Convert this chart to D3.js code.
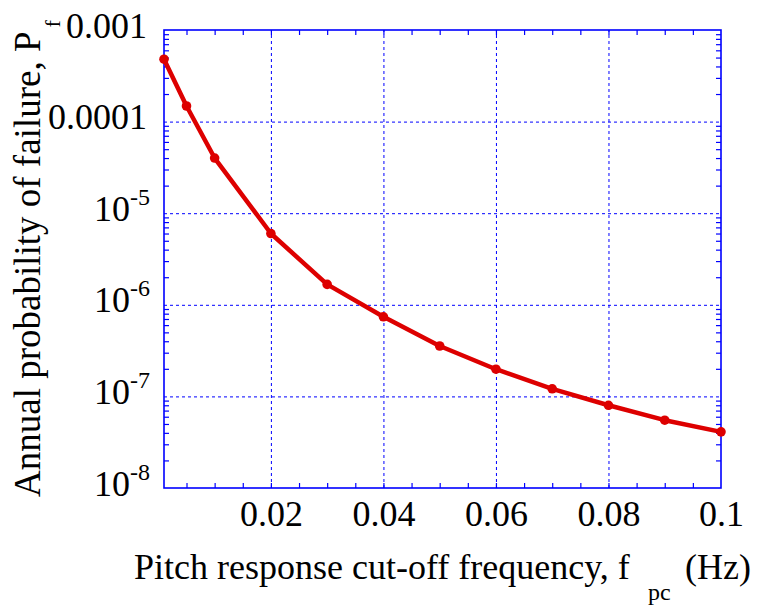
<!DOCTYPE html>
<html><head><meta charset="utf-8">
<script src="https://cdn.jsdelivr.net/npm/d3@7"></script>
<style>
body{margin:0;background:#fff}
svg text{font-family:"Liberation Serif","Times New Roman",serif;fill:#000}
</style>
</head><body>
<svg id="c" width="757" height="608"></svg>
<script>
// ---- data ----
const freq = [0.001, 0.005, 0.01, 0.02, 0.03, 0.04, 0.05, 0.06, 0.07, 0.08, 0.09, 0.1];
const pf   = [4.8e-4, 1.48e-4, 4.0e-5, 6.0e-6, 1.67e-6, 7.4e-7, 3.55e-7, 1.98e-7, 1.21e-7, 8.0e-8, 5.5e-8, 4.1e-8];
const xTickValues = [0.02, 0.04, 0.06, 0.08, 0.1];
const xTickLabels = ["0.02", "0.04", "0.06", "0.08", "0.1"];
const xMinorTicks = [0.005,0.01,0.015,0.02,0.025,0.03,0.035,0.04,0.045,0.05,0.055,0.06,0.065,0.07,0.075,0.08,0.085,0.09,0.095];
const yTickValues = [1e-3, 1e-4, 1e-5, 1e-6, 1e-7, 1e-8];
const yTickLabels = ["0.001", "0.0001", "10^-5", "10^-6", "10^-7", "10^-8"];
const xTitle = ["Pitch response cut-off frequency, f", "pc", "(Hz)"];
const yTitle = ["Annual probability of failure, P", "f"];

// ---- layout ----
const W = 757, H = 608;
const m = {left:164, top:30, right:36, bottom:120};
const iw = W - m.left - m.right, ih = H - m.top - m.bottom;
const blue = "#0000ff", red = "#dd0000";
const serif = '"Liberation Serif","Times New Roman",serif';

const svg = d3.select("#c");
const g = svg.append("g").attr("transform", `translate(${m.left},${m.top})`);

const x = d3.scaleLinear().domain([0.001, 0.1]).range([0, iw]);
const y = d3.scaleLog().domain([1e-8, 1e-3]).range([ih, 0]);

// gridlines
const gridX = g.append("g").attr("transform", `translate(0,${ih})`)
  .call(d3.axisBottom(x).tickValues(xTickValues.filter(v => v < 0.1)).tickSize(-ih).tickFormat(""));
const gridY = g.append("g")
  .call(d3.axisLeft(y).tickValues(yTickValues.filter(v => v < 1e-3 && v > 1e-8)).tickSize(-iw).tickFormat(""));
[gridX, gridY].forEach(a => {
  a.select(".domain").remove();
  a.selectAll("line").attr("stroke", blue).attr("stroke-width", 1).attr("stroke-dasharray", "3,3");
});

// minor ticks (inward) on all four sides
const yMinor = y.ticks().filter(v => !yTickValues.includes(v));
const tk = 5;
const axes = [
  g.append("g").attr("transform", `translate(0,${ih})`).call(d3.axisBottom(x).tickValues(xMinorTicks).tickSize(-tk).tickFormat("")),
  g.append("g").call(d3.axisTop(x).tickValues(xMinorTicks).tickSize(-tk).tickFormat("")),
  g.append("g").call(d3.axisLeft(y).tickValues(yMinor).tickSize(-tk).tickFormat("")),
  g.append("g").attr("transform", `translate(${iw},0)`).call(d3.axisRight(y).tickValues(yMinor).tickSize(-tk).tickFormat(""))
];
axes.forEach(a => {
  a.select(".domain").remove();
  a.selectAll("line").attr("stroke", blue).attr("stroke-width", 1.2);
});

// frame
g.append("rect").attr("x", 0).attr("y", 0).attr("width", iw).attr("height", ih)
  .attr("fill", "none").attr("stroke", blue).attr("stroke-width", 1.6);

// x tick labels
const xl = g.append("g").attr("transform", `translate(0,${ih})`)
  .call(d3.axisBottom(x).tickValues(xTickValues).tickSize(0).tickPadding(0)
    .tickFormat((d, i) => xTickLabels[i]));
xl.select(".domain").remove();
xl.attr("font-family", serif);
xl.selectAll("text").attr("font-size", 36).attr("dy", null).attr("y", 38)
  .style("font-family", serif).attr("fill", "#000");

// y tick labels
const yl = g.append("g").call(d3.axisLeft(y).tickValues(yTickValues).tickSize(0).tickFormat(""));
yl.select(".domain").remove();
yl.attr("font-family", serif);
yl.selectAll(".tick").each(function(d, i) {
  const lab = yTickLabels[i];
  const t = d3.select(this).append("text")
    .attr("text-anchor", "end").attr("y", 7).attr("font-size", 36)
    .style("font-family", serif).attr("fill", "#000");
  if (lab.includes("^")) {
    const [b, e] = lab.split("^");
    t.attr("x", -14);
    t.append("tspan").text(b);
    t.append("tspan").attr("font-size", 24).attr("dy", -16).text(e);
  } else {
    t.attr("x", -17).text(lab);
  }
});

// data line and markers
const line = d3.line().x((d, i) => x(freq[i])).y(d => y(d));
g.append("path").datum(pf).attr("d", line).attr("fill", "none")
  .attr("stroke", red).attr("stroke-width", 4.5).attr("stroke-linejoin", "round");
g.selectAll("circle.pt").data(pf).enter().append("circle").attr("class", "pt")
  .attr("cx", (d, i) => x(freq[i])).attr("cy", d => y(d)).attr("r", 4.8).attr("fill", red);

// axis titles
svg.append("text").attr("x", 134).attr("y", 579).attr("font-size", 36).text(xTitle[0]);
svg.append("text").attr("x", 648).attr("y", 600).attr("font-size", 24).text(xTitle[1]);
svg.append("text").attr("x", 751).attr("y", 579).attr("font-size", 36).attr("text-anchor", "end").text(xTitle[2]);

const yt = svg.append("text").attr("transform", "translate(40,497) rotate(-90)").attr("font-size", 37);
yt.append("tspan").text(yTitle[0]);
yt.append("tspan").attr("font-size", 22).attr("dx", 4).attr("dy", 20).text(yTitle[1]);
</script>
</body></html>
